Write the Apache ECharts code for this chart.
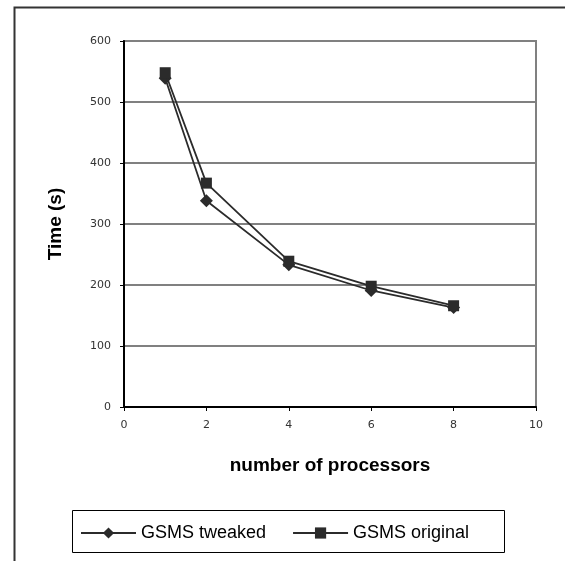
<!DOCTYPE html>
<html>
<head>
<meta charset="utf-8">
<script src="https://cdn.jsdelivr.net/npm/echarts@6/dist/echarts.min.js"></script>
<style>
html,body{margin:0;padding:0;background:#fff;}
#chart{width:565px;height:561px;}
</style>
</head>
<body>
<div id="chart"></div>
<script>
var processors = [1, 2, 4, 6, 8];
var tweaked = [539, 338, 233, 191, 163];
var original = [548, 367, 239, 198, 166];
var xTicks = [0, 2, 4, 6, 8, 10];
var yTicks = [0, 100, 200, 300, 400, 500, 600];
var seriesNames = ['GSMS tweaked', 'GSMS original'];

function pairs(xs, ys) { return xs.map(function (x, i) { return [x, ys[i]]; }); }

var chart = echarts.init(document.getElementById('chart'), null, {renderer: 'canvas'});
chart.setOption({
  backgroundColor: '#ffffff',
  animation: false,
  graphic: [
    {type: 'rect', left: 12, top: 5, shape: {width: 620, height: 620}, style: {fill: 'none', stroke: '#333', lineWidth: 2}, z: 0},
    {type: 'rect', left: 72, top: 510, shape: {width: 432, height: 42}, style: {fill: '#fff', stroke: '#000', lineWidth: 1}, z: 1}
  ],
  grid: {left: 124, right: 29, top: 41, bottom: 154, show: true, borderColor: '#808080', borderWidth: 2},
  legend: {
    left: 80, top: 524, padding: 0, itemWidth: 55, itemHeight: 14, itemGap: 26, z: 5,
    textStyle: {fontFamily: 'Liberation Sans', fontSize: 18, color: '#000'},
    data: seriesNames
  },
  xAxis: {
    type: 'value', min: xTicks[0], max: xTicks[xTicks.length - 1], interval: 2,
    name: 'number of processors', nameLocation: 'middle', nameGap: 49,
    nameTextStyle: {fontFamily: 'Liberation Sans', fontWeight: 'bold', fontSize: 19, color: '#000'},
    axisLine: {show: true, onZero: false, lineStyle: {color: '#000', width: 2}},
    axisTick: {show: true, inside: false, length: 4, lineStyle: {color: '#000', width: 1}},
    axisLabel: {margin: 13, fontFamily: 'DejaVu Sans', fontSize: 11, color: '#333'},
    splitLine: {show: false}
  },
  yAxis: {
    type: 'value', min: yTicks[0], max: yTicks[yTicks.length - 1], interval: 100,
    name: 'Time (s)', nameLocation: 'middle', nameGap: 59,
    nameTextStyle: {fontFamily: 'Liberation Sans', fontWeight: 'bold', fontSize: 19, color: '#000'},
    axisLine: {show: true, lineStyle: {color: '#000', width: 2}},
    axisTick: {show: true, inside: false, length: 4, lineStyle: {color: '#000', width: 1}},
    axisLabel: {margin: 13, fontFamily: 'DejaVu Sans', fontSize: 11, color: '#333'},
    splitLine: {show: true, lineStyle: {color: '#808080', width: 2}}
  },
  series: [
    {
      name: seriesNames[0], type: 'line', data: pairs(processors, tweaked),
      symbol: 'diamond', symbolSize: 13, showAllSymbol: true,
      itemStyle: {color: '#2b2b2b'}, lineStyle: {color: '#2b2b2b', width: 1.8}, z: 3
    },
    {
      name: seriesNames[1], type: 'line', data: pairs(processors, original),
      symbol: 'rect', symbolSize: 11, showAllSymbol: true,
      itemStyle: {color: '#2b2b2b'}, lineStyle: {color: '#2b2b2b', width: 1.8}, z: 4
    }
  ]
});
</script>
</body>
</html>
